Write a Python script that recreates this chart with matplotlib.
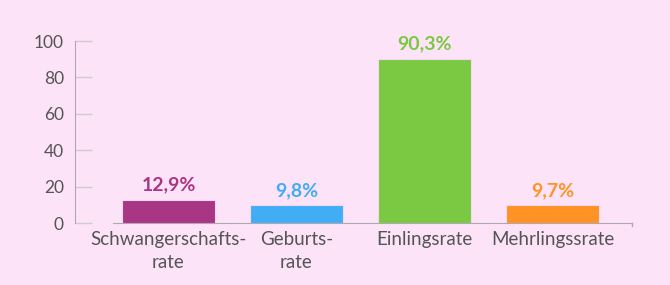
import numpy as np
import matplotlib.pyplot as plt

categories = ['Schwangerschafts-\nrate', 'Geburts-\nrate', 'Einlingsrate', 'Mehrlingssrate']
values = [12.9, 9.8, 90.3, 9.7]
labels = ['12,9%', '9,8%', '90,3%', '9,7%']
colors = ['#a93585', '#41adf5', '#7bc843', '#ff9326']
yticks = [0, 20, 40, 60, 80, 100]

bg = '#fde3f8'
plt.rcParams['font.family'] = ['Lato', 'DejaVu Sans']

fig = plt.figure(figsize=(6.7, 2.85), dpi=100, facecolor=bg)
ax = fig.add_axes([0.112, 0.2175, 0.831, 0.6385], facecolor=bg)

x = np.arange(len(values))
ax.bar(x, values, width=0.73, color=colors, edgecolor='#f4d8ee', linewidth=0.8, zorder=3)
for xi, v, lab, c in zip(x, values, labels, colors):
    ax.text(xi, v + 3.5, lab, ha='center', va='bottom', color=c,
            fontsize=14, fontweight='bold')

ax.set_xlim(-0.73, 3.62)
ax.set_ylim(0, 100)
ax.set_yticks(yticks)
ax.set_yticklabels([str(t) for t in yticks], fontsize=12.5, color='#555555')
ax.tick_params(axis='y', direction='in', length=12, width=1, color='#cccccc', pad=8)
ax.set_xticks(x)
ax.set_xticklabels(categories, fontsize=13.5, color='#555555', linespacing=1.4)
ax.tick_params(axis='x', length=0, pad=6)

for s in ['top', 'right']:
    ax.spines[s].set_visible(False)
ax.spines['left'].set_color('#b0a8b0')
ax.spines['bottom'].set_color('#b0a8b0')
ax.spines['bottom'].set_bounds(-0.43, 3.62)
ax.plot([3.62, 3.62], [0, -1.5], color='#b0a8b0', lw=1, clip_on=False)

fig.savefig('out.png', dpi=100, facecolor=bg)
